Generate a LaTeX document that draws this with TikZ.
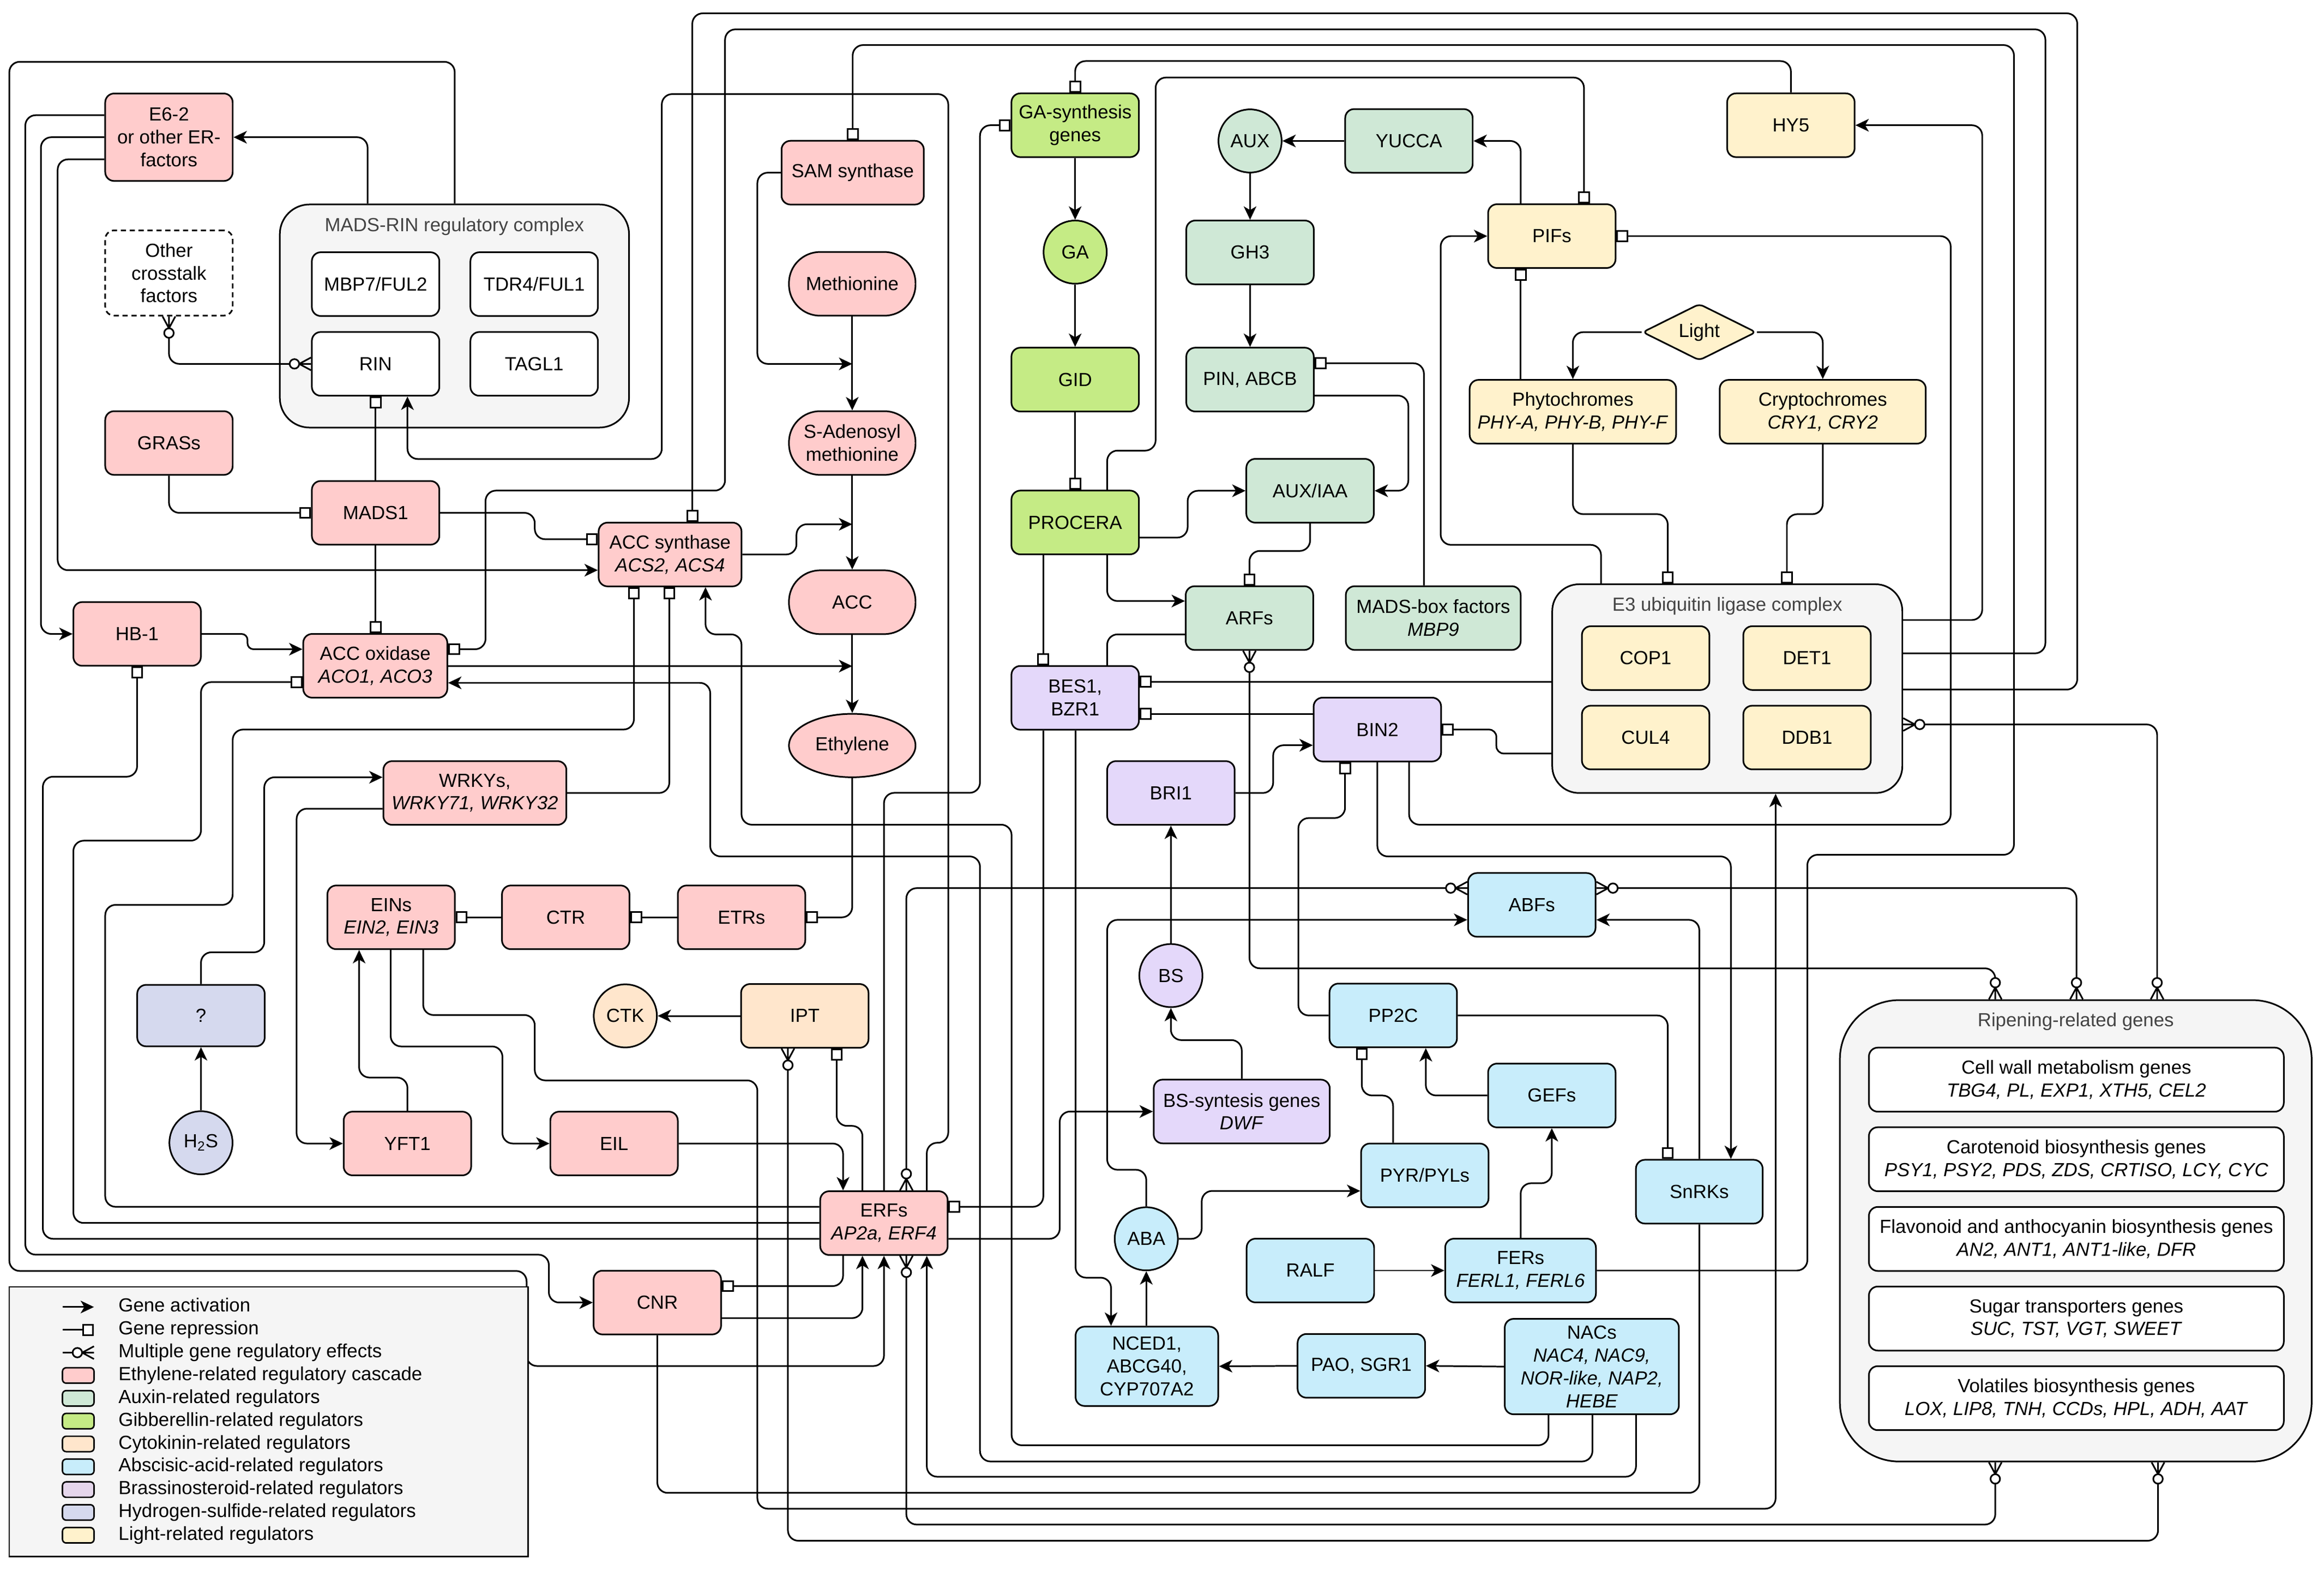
\documentclass[tikz,border=0pt]{standalone}
\usepackage{fontspec}
\setmainfont{Liberation Sans}
\usetikzlibrary{arrows.meta,shapes.geometric}
\definecolor{ethc}{HTML}{FFCCCC}
\definecolor{auxc}{HTML}{CFE8D6}
\definecolor{gac}{HTML}{C5EB85}
\definecolor{ctkc}{HTML}{FFE6CC}
\definecolor{abac}{HTML}{C8EDFB}
\definecolor{brc}{HTML}{E4D8FA}
\definecolor{brlc}{HTML}{E5D6EC}
\definecolor{hsc}{HTML}{D5D9EE}
\definecolor{ltc}{HTML}{FFF2CC}
\definecolor{cntc}{HTML}{F5F5F5}
\definecolor{ttlc}{HTML}{444444}
\pgfdeclarearrow{
  name = Multi,
  setup code = {
    \pgfarrowssettipend{0pt}
    \pgfarrowssetlineend{-14.2pt}
    \pgfarrowssetbackend{-14.6pt}
    \pgfarrowssetvisualbackend{-14.6pt}
    \pgfarrowsupperhullpoint{0pt}{4.5pt}
    \pgfarrowsupperhullpoint{-14.6pt}{4.5pt}
  },
  drawing code = {
    \pgfsetcornersarced{\pgfpointorigin}
    \pgfpathmoveto{\pgfqpoint{0pt}{4.3pt}}
    \pgfpathlineto{\pgfqpoint{-8pt}{0pt}}
    \pgfpathlineto{\pgfqpoint{0pt}{-4.3pt}}
    \pgfpathmoveto{\pgfqpoint{-8pt}{0pt}}
    \pgfpathlineto{\pgfqpoint{0pt}{0pt}}
    \pgfusepathqstroke
    \pgfpathcircle{\pgfqpoint{-11.2pt}{0pt}}{3.2pt}
    \pgfsetfillcolor{white}
    \pgfusepathqfillstroke
  }
}
\begin{document}
\begin{tikzpicture}[x=1pt,y=-1pt,
  every node/.style={font=\fontsize{12.8}{15.4}\selectfont},
  bx/.style={draw,line width=1.1pt,rounded corners=6pt,align=center,inner sep=0pt,minimum width=86pt,minimum height=43pt},
  stad/.style={bx,rounded corners=21pt,minimum width=85.4pt},
  circ/.style={draw,line width=1.1pt,circle,minimum size=42.6pt,inner sep=0pt},
  cnt/.style={draw,line width=1.1pt,fill=cntc,rounded corners=20pt,inner sep=0pt},
  ttl/.style={text=ttlc,inner sep=0pt},
  ln/.style={line width=1.1pt,rounded corners=7pt},
  act/.style={ln,-{Stealth[length=9pt,width=8.5pt,inset=2.5pt]}},
  rep/.style={ln,-{Square[length=8pt,width=8pt,fill=white]}},
  mm/.style={ln,{Multi}-{Multi}},
  sw/.style={draw,line width=1pt,rounded corners=2.5pt,minimum width=21.3pt,minimum height=10.4pt,inner sep=0pt},
  lt/.style={anchor=west,inner sep=0pt,text height=9.3pt,text depth=2.6pt}
]
\useasboundingbox (0,0) rectangle (1568,1059.6);
\fill[white] (0,0) rectangle (1568,1059.6);

% ---------- containers ----------
\node[cnt,minimum width=235.6pt,minimum height=150.5pt] (madsrin) at (306.6,213.2) {};
\node[ttl] (madsrinT) at (306.6,152.7) {MADS-RIN regulatory complex};
\node[cnt,rounded corners=18pt,minimum width=236.2pt,minimum height=140.8pt] (e3) at (1165.4,464.6) {};
\node[ttl] (e3T) at (1165.4,408.8) {E3 ubiquitin ligase complex};
\node[cnt,rounded corners=40pt,minimum width=318.3pt,minimum height=311.3pt] (ripe) at (1400.5,830.4) {};
\node[ttl] (ripeT) at (1400.5,689.3) {Ripening-related genes};

% ---------- nodes ----------
\node[bx,fill=ethc,minimum height=59pt] (e62) at (114,92.6) {E6-2\\or other ER-\\factors};
\node[bx,fill=white,dash pattern=on 3.5pt off 2.5pt,minimum height=57.5pt] (other) at (114,184.2) {Other\\crosstalk\\factors};
\node[bx,fill=ethc] (grass) at (114,298.9) {GRASs};
\node[bx,fill=white] (mbp7) at (253.4,191.7) {MBP7/FUL2};
\node[bx,fill=white] (tdr4) at (360.4,191.7) {TDR4/FUL1};
\node[bx,fill=white] (rin) at (253.4,245.5) {RIN};
\node[bx,fill=white] (tagl1) at (360.4,245.5) {TAGL1};
\node[bx,fill=ethc] (mads1) at (253.4,346) {MADS1};
\node[bx,fill=ethc] (hb1) at (92.5,427.7) {HB-1};
\node[bx,fill=ethc,minimum width=97.2pt] (aco) at (253.2,449.2) {ACC oxidase\\\textit{ACO1, ACO3}};
\node[bx,fill=ethc,minimum width=96.4pt] (acs) at (452.1,374.1) {ACC synthase\\\textit{ACS2, ACS4}};
\node[bx,fill=ethc,minimum width=96pt] (sam) at (575.3,116.5) {SAM synthase};
\node[stad,fill=ethc] (meth) at (575,191.5) {Methionine};
\node[stad,fill=ethc] (sadm) at (575,298.9) {S-Adenosyl\\methionine};
\node[stad,fill=ethc] (acc) at (575,406.3) {ACC};
\node[draw,line width=1.1pt,ellipse,fill=ethc,minimum width=85.4pt,minimum height=42.8pt,inner sep=0pt] (ethy) at (575,503) {Ethylene};
\node[bx,fill=ethc,minimum width=123.5pt] (wrky) at (320.4,535) {WRKYs,\\\textit{WRKY71, WRKY32}};
\node[bx,fill=ethc] (eins) at (263.9,618.9) {EINs\\\textit{EIN2, EIN3}};
\node[bx,fill=ethc] (ctr) at (381.7,618.9) {CTR};
\node[bx,fill=ethc] (etrs) at (500.3,618.9) {ETRs};
\node[bx,fill=hsc,minimum height=41.5pt] (q) at (135.6,685.2) {?};
\node[circ,fill=hsc] (h2s) at (135.6,771) {H\textsubscript{2}S};
\node[bx,fill=ethc] (yft1) at (274.9,771.5) {YFT1};
\node[bx,fill=ethc] (eil) at (414.3,771.5) {EIL};
\node[circ,fill=ctkc] (ctk) at (421.9,685.4) {CTK};
\node[bx,fill=ctkc] (ipt) at (543,685.4) {IPT};
\node[bx,fill=ethc] (erfs) at (596.4,825.2) {ERFs\\\textit{AP2a, ERF4}};
\node[bx,fill=ethc] (cnr) at (443.5,878.8) {CNR};
\node[bx,fill=gac] (gasyn) at (725.4,84.5) {GA-synthesis\\genes};
\node[circ,fill=gac] (ga) at (725.4,170.1) {GA};
\node[bx,fill=gac] (gid) at (725.4,256.1) {GID};
\node[bx,fill=gac] (procera) at (725.4,352.5) {PROCERA};
\node[bx,fill=brc] (bes1) at (725.4,470.8) {BES1,\\BZR1};
\node[circ,fill=auxc] (aux) at (843.4,95.1) {AUX};
\node[bx,fill=auxc] (yucca) at (950.6,95.1) {YUCCA};
\node[bx,fill=auxc] (gh3) at (843.4,170.3) {GH3};
\node[bx,fill=auxc] (pin) at (843.4,256.1) {PIN, ABCB};
\node[bx,fill=auxc] (auxiaa) at (883.9,331.1) {AUX/IAA};
\node[bx,fill=auxc] (arfs) at (843,417) {ARFs};
\node[bx,fill=auxc,minimum width=118pt] (madsbox) at (967,417) {MADS-box factors\\\textit{MBP9}};
\node[bx,fill=ltc] (pifs) at (1047,159.3) {PIFs};
\node[draw,line width=1.1pt,diamond,aspect=2,fill=ltc,minimum width=76.7pt,minimum height=38.3pt,inner sep=0pt,rounded corners=3pt] (light) at (1146.5,224.1) {Light};
\node[bx,fill=ltc,minimum width=139.3pt] (phyto) at (1061.2,277.8) {Phytochromes\\\textit{PHY-A, PHY-B, PHY-F}};
\node[bx,fill=ltc,minimum width=139pt] (crypto) at (1229.8,277.8) {Cryptochromes\\\textit{CRY1, CRY2}};
\node[bx,fill=ltc] (hy5) at (1208.3,84.5) {HY5};
\node[bx,fill=ltc] (cop1) at (1110.3,444) {COP1};
\node[bx,fill=ltc] (det1) at (1219.2,444) {DET1};
\node[bx,fill=ltc] (cul4) at (1110.3,497.6) {CUL4};
\node[bx,fill=ltc] (ddb1) at (1219.2,497.6) {DDB1};
\node[bx,fill=brc] (bin2) at (929.3,492.2) {BIN2};
\node[bx,fill=brc] (bri1) at (790,535) {BRI1};
\node[circ,fill=brc] (bs) at (790,658.2) {BS};
\node[bx,fill=brc,minimum width=118.8pt] (bssyn) at (837.8,749.9) {BS-syntesis genes\\\textit{DWF}};
\node[bx,fill=abac] (abfs) at (1033.5,610.5) {ABFs};
\node[bx,fill=abac] (pp2c) at (940,685.1) {PP2C};
\node[bx,fill=abac] (gefs) at (1047,739.1) {GEFs};
\node[bx,fill=abac] (pyr) at (961.3,793) {PYR/PYLs};
\node[bx,fill=abac,minimum width=85.5pt] (snrks) at (1146.5,804) {SnRKs};
\node[circ,fill=abac] (aba) at (773.4,835.8) {ABA};
\node[bx,fill=abac] (ralf) at (884.1,857.2) {RALF};
\node[bx,fill=abac,minimum width=101.7pt] (fers) at (1025.9,857.2) {FERs\\\textit{FERL1, FERL6}};
\node[bx,fill=abac,minimum width=96.2pt,minimum height=53.5pt] (nced) at (773.8,921.8) {NCED1,\\ABCG40,\\CYP707A2};
\node[bx,fill=abac] (pao) at (918.5,921.5) {PAO, SGR1};
\node[bx,fill=abac,minimum width=117.5pt,minimum height=64.4pt] (nacs) at (1074,922) {NACs\\\textit{NAC4, NAC9,}\\\textit{NOR-like, NAP2,}\\\textit{HEBE}};
\node[bx,fill=white,minimum width=279.9pt,minimum height=43.2pt] (rp1) at (1400.9,728.4) {Cell wall metabolism genes\\\textit{TBG4, PL, EXP1, XTH5, CEL2}};
\node[bx,fill=white,minimum width=279.9pt,minimum height=43.2pt] (rp2) at (1400.9,782.1) {Carotenoid biosynthesis genes\\\textit{PSY1, PSY2, PDS, ZDS, CRTISO, LCY, CYC}};
\node[bx,fill=white,minimum width=279.9pt,minimum height=43.2pt] (rp3) at (1400.9,835.9) {Flavonoid and anthocyanin biosynthesis genes\\\textit{AN2, ANT1, ANT1-like, DFR}};
\node[bx,fill=white,minimum width=279.9pt,minimum height=43.2pt] (rp4) at (1400.9,889.6) {Sugar transporters genes\\\textit{SUC, TST, VGT, SWEET}};
\node[bx,fill=white,minimum width=279.9pt,minimum height=43.2pt] (rp5) at (1400.9,943.3) {Volatiles biosynthesis genes\\\textit{LOX, LIP8, TNH, CCDs, HPL, ADH, AAT}};

\coordinate (m1) at (575,245.5);
\coordinate (m2) at (575,353.7);
\coordinate (m3) at (575,449.4);

% ---------- connectors ----------
\draw[act] (madsrin.north -| 248,0) -- (248,92.6) -- (e62.east);
\draw[act] (madsrin.north -| 306.8,0) -- (306.8,41.7) -- (6.3,41.7) -- (6.3,857.5) -- (355.3,857.5) -- (355.3,921.6) -- (596.4,921.6) -- (erfs.south);
\draw[act] (e62.west |- 0,77.7) -- (17.1,77.7) -- (17.1,846.5) -- (370.3,846.5) -- (370.3,878.8) -- (cnr.west);
\draw[act] (e62.west |- 0,92.6) -- (27.6,92.6) -- (27.6,427.7) -- (hb1.west);
\draw[act] (e62.west |- 0,107.5) -- (38.9,107.5) -- (38.9,384.7) -- (acs.west |- 0,384.7);
\draw[rep] (grass.south) |- (mads1.west);
\draw[rep] (mads1.north) -- (rin.south);
\draw[act] (erfs.north -| 625.3,0) -- (625.3,771) -- (639.8,771) -- (639.8,63.5) -- (446.5,63.5) -- (446.5,309.7) -- (274.9,309.7) -- (rin.south -| 274.9,0);
\draw[mm] (rin.west) -| (other.south);
\draw[rep] (mads1.east) -- (360.8,346) -- (360.8,363.8) -- (acs.west |- 0,363.8);
\draw[rep] (mads1.south) -- (mads1.south |- aco.north);
\draw[act,rounded corners=4pt] (hb1.east) -- (167,427.7) -- (167,438) -- (aco.west |- 0,438);
\draw[rep] (erfs.west |- 0,835.8) -- (28.9,835.8) -- (28.9,524) -- (92.5,524) -- (hb1.south);
\draw[rep] (erfs.west |- 0,825.1) -- (49.5,825.1) -- (49.5,567.2) -- (135.6,567.2) -- (135.6,460.2) -- (aco.west |- 0,460.2);
\draw[rep] (erfs.west |- 0,814.2) -- (71,814.2) -- (71,610.5) -- (157,610.5) -- (157,492.2) -- (427.7,492.2) -- (acs.south -| 427.7,0);
\draw[rep] (wrky.east) -- (451.6,535) -- (acs.south -| 451.6,0);
\draw[act] (q.north) -- (135.6,642.5) -- (178.3,642.5) -- (178.3,524.4) -- (wrky.west |- 0,524.4);
\draw[act] (wrky.west |- 0,545.6) -- (200.1,545.6) -- (200.1,771.5) -- (yft1.west);
\draw[act] (h2s.north) -- (q.south);
\draw[act] (yft1.north) -- (274.9,727) -- (242.3,727) -- (eins.south -| 242.3,0);
\draw[act] (eins.south -| 263.6,0) -- (263.6,706) -- (339,706) -- (339,771.5) -- (eil.west);
\draw[act] (eins.south -| 285.5,0) -- (285.5,684.8) -- (360.8,684.8) -- (360.8,728.9) -- (511,728.9) -- (511,1017.9) -- (1198,1017.9) -- (e3.south -| 1198,0);
\draw[rep] (ctr.west) -- (eins.east);
\draw[rep] (etrs.west) -- (ctr.east);
\draw[rep] (ethy.south) |- (etrs.east);
\draw[act] (meth.south) -- (sadm.north);
\draw[act] (sam.west) -- (511,116.5) -- (511,245.5) -- (m1);
\draw[act] (sadm.south) -- (acc.north);
\draw[act] (acs.east) -- (537.4,374.1) -- (537.4,353.7) -- (m2);
\draw[act] (acc.south) -- (ethy.north);
\draw[act] (aco.east |- 0,449.4) -- (m3);
\draw[act] (nacs.south -| 1074.4,0) -- (1074.4,986) -- (661.2,986) -- (661.2,577.8) -- (479.2,577.8) -- (479.2,460.7) -- (aco.east |- 0,460.7);
\draw[act] (nacs.south -| 1044.8,0) -- (1044.8,975.1) -- (682.5,975.1) -- (682.5,556.4) -- (500.3,556.4) -- (500.3,428) -- (476,428) -- (acs.south -| 476,0);
\draw[act] (nacs.south -| 1103.8,0) -- (1103.8,996.3) -- (625.3,996.3) -- (erfs.south -| 625.3,0);
\draw[rep] (e3.east |- 0,440.8) -- (1380,440.8) -- (1380,19.8) -- (489.2,19.8) -- (489.2,331) -- (327.6,331) -- (327.6,438) -- (aco.east |- 0,438);
\draw[rep] (e3.east |- 0,465.2) -- (1401.5,465.2) -- (1401.5,9) -- (467.1,9) -- (acs.north -| 467.1,0);
\draw[rep] (fers.east) -- (1219.4,857.2) -- (1219.4,576.7) -- (1358.8,576.7) -- (1358.8,30.4) -- (575.3,30.4) -- (sam.north);
\draw[act] (e3.east |- 0,418.3) -- (1337.4,418.3) -- (1337.4,84.5) -- (hy5.east);
\draw[rep] (hy5.north) -- (1208.3,41.2) -- (725.4,41.2) -- (gasyn.north);
\draw[mm] (e3.east |- 0,488.8) -- (1455.4,488.8) -- (ripe.north -| 1455.4,0);
\draw[mm] (abfs.east |- 0,599.2) -- (1401,599.2) -- (ripe.north -| 1401,0);
\draw[mm] (arfs.south) -- (843,653.3) -- (1346.2,653.3) -- (ripe.north -| 1346.2,0);
\draw[mm] (erfs.north -| 611.5,0) -- (611.5,599.2) -- (abfs.west |- 0,599.2);
\draw[mm] (erfs.south -| 611.5,0) -- (611.5,1028.6) -- (1346.2,1028.6) -- (ripe.south -| 1346.2,0);
\draw[mm] (ipt.south -| 531.6,0) -- (531.6,1039.5) -- (1456,1039.5) -- (ripe.south -| 1456,0);
\draw[rep] (erfs.north -| 581.9,0) -- (581.9,759.6) -- (564.5,759.6) -- (ipt.south -| 564.5,0);
\draw[act] (eil.east) -- (568.8,771.5) -- (erfs.north -| 568.8,0);
\draw[rep] (erfs.north) -- (596.4,534.9) -- (661.2,534.9) -- (661.2,84.5) -- (gasyn.west);
\draw[rep] (bes1.south -| 703.9,0) -- (703.9,814.2) -- (erfs.east |- 0,814.2);
\draw[act] (erfs.east |- 0,835.8) -- (715,835.8) -- (715,749.9) -- (bssyn.west);
\draw[rep] (erfs.south -| 568.8,0) -- (568.8,867.7) -- (cnr.east |- 0,867.7);
\draw[act] (cnr.east |- 0,889.3) -- (581.9,889.3) -- (erfs.south -| 581.9,0);
\draw[ln] (cnr.south) -- (443.5,1007.2) -- (1146.5,1007.2) -- (snrks.south);
\draw[act] (ipt.west) -- (ctk.east);
\draw[act] (gasyn.south) -- (ga.north);
\draw[act] (ga.south) -- (gid.north);
\draw[rep] (gid.south) -- (procera.north);
\draw[rep] (procera.north -| 747,0) -- (747,304) -- (779.7,304) -- (779.7,52.3) -- (1068.7,52.3) -- (pifs.north -| 1068.7,0);
\draw[act] (procera.east |- 0,362.7) -- (801.3,362.7) -- (801.3,331.1) -- (auxiaa.west);
\draw[rep] (procera.south -| 703.9,0) -- (bes1.north -| 703.9,0);
\draw[act] (procera.south -| 747,0) -- (747,405.5) -- (arfs.west |- 0,405.5);
\draw[ln] (bes1.north -| 747,0) -- (747,428) -- (arfs.west |- 0,428);
\draw[act] (bes1.south -| 725.7,0) -- (725.7,862) -- (749.6,862) -- (nced.north -| 749.6,0);
\draw[rep] (e3.west |- 0,460) -- (bes1.east |- 0,460);
\draw[rep] (bin2.west |- 0,481.6) -- (bes1.east |- 0,481.6);
\draw[act] (bri1.east) -- (859,535) -- (859,502.8) -- (bin2.west |- 0,502.8);
\draw[rep,rounded corners=5pt] (e3.west |- 0,508.4) -- (1009.6,508.4) -- (1009.6,492.2) -- (bin2.east);
\draw[rep] (pp2c.west) -- (876,685.1) -- (876,551.9) -- (907.5,551.9) -- (bin2.south -| 907.5,0);
\draw[act] (bin2.south -| 929.3,0) -- (929.3,577.8) -- (1167.8,577.8) -- (snrks.north -| 1167.8,0);
\draw[rep] (bin2.south -| 950.7,0) -- (950.7,556.4) -- (1316.1,556.4) -- (1316.1,159.3) -- (pifs.east);
\draw[rep] (pp2c.east) -- (1125.2,685.1) -- (snrks.north -| 1125.2,0);
\draw[act] (snrks.north) -- (1146.5,620.6) -- (abfs.east |- 0,620.6);
\draw[act] (aba.north) -- (773.4,789.2) -- (747,789.2) -- (747,620.6) -- (abfs.west |- 0,620.6);
\draw[act] (aba.east) -- (810.8,835.8) -- (810.8,803.5) -- (pyr.west |- 0,803.5);
\draw[rep] (pyr.north -| 939.9,0) -- (939.9,739.1) -- (918.8,739.1) -- (pp2c.south -| 918.8,0);
\draw[act] (gefs.west) -- (962,739.1) -- (pp2c.south -| 962,0);
\draw[act] (fers.north -| 1026,0) -- (1026,798.3) -- (1047,798.3) -- (gefs.south);
\draw[act] (ralf.east) -- (fers.west);
\draw[act] (nacs.west) -- (pao.east);
\draw[act] (pao.west) -- (nced.east);
\draw[act] (nced.north -| aba.south) -- (aba.south);
\draw[act] (bs.north) -- (bri1.south);
\draw[act] (bssyn.north) -- (837.8,701.7) -- (790,701.7) -- (bs.south);
\draw[rep] (auxiaa.south) -- (883.9,371.7) -- (843,371.7) -- (arfs.north);
\draw[act] (pin.east |- 0,266.9) -- (950.2,266.9) -- (950.2,331.1) -- (auxiaa.east);
\draw[rep] (madsbox.north -| 960.7,0) -- (960.7,245.1) -- (pin.east |- 0,245.1);
\draw[act] (aux.south) -- (gh3.north);
\draw[act] (gh3.south) -- (pin.north);
\draw[act] (yucca.west) -- (aux.east);
\draw[act] (pifs.north -| 1026,0) -- (1026,95.1) -- (yucca.east);
\draw[act] (e3.north -| 1080.2,0) -- (1080.2,367.6) -- (972,367.6) -- (972,159.3) -- (pifs.west);
\draw[rep] (phyto.north -| 1026,0) -- (pifs.south -| 1026,0);
\draw[act] (light.west) -| (phyto.north);
\draw[act] (light.east) -| (crypto.north);
\draw[rep] (phyto.south) -- (1061.2,346.9) -- (1125.2,346.9) -- (e3.north -| 1125.2,0);
\draw[rep] (crypto.south) -- (1229.8,346.9) -- (1205.6,346.9) -- (e3.north -| 1205.6,0);

% ---------- legend ----------
\node[draw,line width=1pt,fill=cntc,minimum width=349.9pt,minimum height=182pt,inner sep=0pt] (legend) at (181.25,959.2) {};
\coordinate (la1) at (42.2,881.8); \coordinate (lb1) at (63.4,881.8);
\coordinate (la2) at (42.2,897.2); \coordinate (lb2) at (63.4,897.2);
\coordinate (la3) at (42.2,912.6); \coordinate (lb3) at (63.4,912.6);
\draw[act] (la1) -- (lb1);
\draw[rep] (la2) -- (lb2);
\draw[ln,-{Multi}] (la3) -- (lb3);
\node[sw,fill=ethc] (sw1) at (52.8,928.0) {};
\node[sw,fill=auxc] (sw2) at (52.8,943.4) {};
\node[sw,fill=gac] (sw3) at (52.8,958.8) {};
\node[sw,fill=ctkc] (sw4) at (52.8,974.2) {};
\node[sw,fill=abac] (sw5) at (52.8,989.6) {};
\node[sw,fill=brlc] (sw6) at (52.8,1005.0) {};
\node[sw,fill=hsc] (sw7) at (52.8,1020.4) {};
\node[sw,fill=ltc] (sw8) at (52.8,1035.8) {};
\node[lt] (lt1) at (79.8,881.8) {Gene activation};
\node[lt] (lt2) at (79.8,897.2) {Gene repression};
\node[lt] (lt3) at (79.8,912.6) {Multiple gene regulatory effects};
\node[lt] (lt4) at (79.8,928.0) {Ethylene-related regulatory cascade};
\node[lt] (lt5) at (79.8,943.4) {Auxin-related regulators};
\node[lt] (lt6) at (79.8,958.8) {Gibberellin-related regulators};
\node[lt] (lt7) at (79.8,974.2) {Cytokinin-related regulators};
\node[lt] (lt8) at (79.8,989.6) {Abscisic-acid-related regulators};
\node[lt] (lt9) at (79.8,1005.0) {Brassinosteroid-related regulators};
\node[lt] (lt10) at (79.8,1020.4) {Hydrogen-sulfide-related regulators};
\node[lt] (lt11) at (79.8,1035.8) {Light-related regulators};
\end{tikzpicture}
\end{document}
